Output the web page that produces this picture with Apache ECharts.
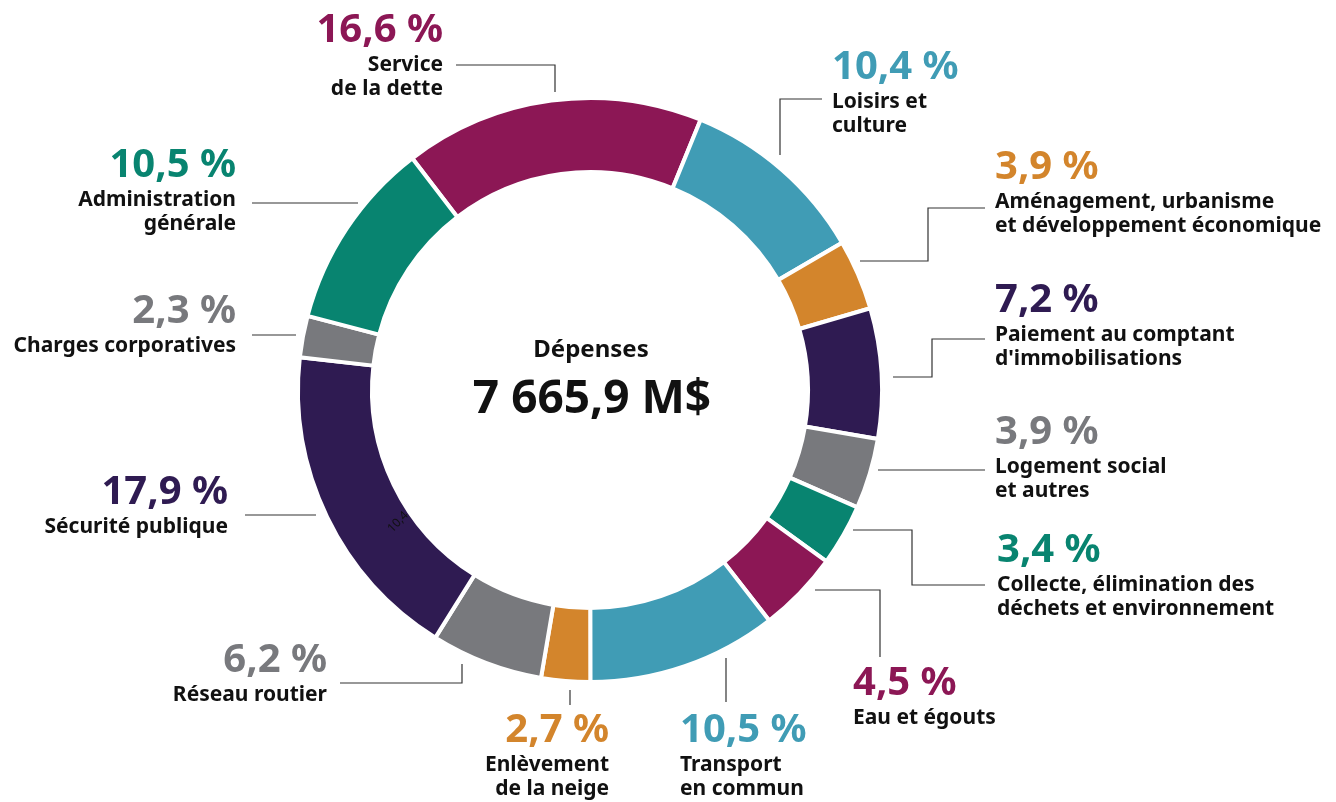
<!DOCTYPE html>
<html>
<head>
<meta charset="utf-8">
<script src="https://cdn.jsdelivr.net/npm/echarts@6/dist/echarts.min.js"></script>
<style>
  html, body { margin: 0; padding: 0; background: #fff; }
  #chart { width: 1336px; height: 802px; }
</style>
</head>
<body>
<div id="chart"></div>
<script>
// budget shares, clockwise from the top-left
const categories = [
  'Service\nde la dette',
  'Loisirs et\nculture',
  'Aménagement, urbanisme\net développement économique',
  'Paiement au comptant\nd\'immobilisations',
  'Logement social\net autres',
  'Collecte, élimination des\ndéchets et environnement',
  'Eau et égouts',
  'Transport\nen commun',
  'Enlèvement\nde la neige',
  'Réseau routier',
  'Sécurité publique',
  'Charges corporatives',
  'Administration\ngénérale'
];
const shares = [16.6, 10.4, 3.9, 7.2, 3.9, 3.4, 4.5, 10.5, 2.7, 6.2, 17.9, 2.3, 10.5];
const centerTitle = 'Dépenses';
const centerTotal = '7 665,9 M$';

const MAGENTA = '#8c1755', BLUE = '#409cb5', ORANGE = '#d3852c',
      PURPLE = '#2f1b52', GREY = '#78797d', GREEN = '#088470';
const colors = [MAGENTA, BLUE, ORANGE, PURPLE, GREY, GREEN, MAGENTA, BLUE, ORANGE, GREY, PURPLE, GREY, GREEN];

// label anchor: x, y (top of block), alignment
const labelPos = [
  [443, 9, 'right'],
  [832, 46, 'left'],
  [995, 146, 'left'],
  [995, 279, 'left'],
  [995, 411, 'left'],
  [997, 529, 'left'],
  [853, 662, 'left'],
  [680, 709, 'left'],
  [609, 709, 'right'],
  [327, 639, 'right'],
  [228, 471, 'right'],
  [236, 290, 'right'],
  [236, 144, 'right']
];
// leader lines
const leaderLines = [
  [[456, 65], [555, 65], [555, 92]],
  [[822, 99], [780, 99], [780, 155]],
  [[985, 208], [928, 208], [928, 261], [860, 261]],
  [[985, 339], [932, 339], [932, 377], [893, 377]],
  [[985, 470], [878, 470]],
  [[985, 585], [912, 585], [912, 530], [853, 530]],
  [[815, 590], [880, 590], [880, 657]],
  [[726, 658], [726, 702]],
  [[570, 690], [570, 705]],
  [[340, 683], [462, 683], [462, 664]],
  [[245, 515], [316, 515]],
  [[252, 335], [296, 335]],
  [[252, 203], [358, 203]]
];

const FONT = '"Noto Sans", "DejaVu Sans", sans-serif';

let chart = echarts.init(document.getElementById('chart'));

chart.setOption({
  animation: false,
  backgroundColor: '#fff',
  graphic: [
    {
      type: 'text', x: 591, y: 350,
      style: { text: centerTitle, font: 'bold 24px ' + FONT, fill: '#111', align: 'center', verticalAlign: 'middle' }
    },
    {
      type: 'text', x: 592, y: 400,
      style: { text: centerTotal, font: 'bold 46px ' + FONT, fill: '#111', align: 'center', verticalAlign: 'middle' }
    },
    {
      type: 'text', x: 398, y: 522, rotation: 0.8, z: 100,
      style: { text: '10,4', font: '12px ' + FONT, fill: '#111', align: 'center', verticalAlign: 'middle' }
    }
  ],
  series: [{
    type: 'pie',
    center: [590, 390],
    radius: [218, 292],
    startAngle: 127.5,
    clockwise: true,
    avoidLabelOverlap: false,
    itemStyle: { borderColor: '#fff', borderWidth: 4 },
    emphasis: { disabled: true },
    data: shares.map((v, i) => ({
      name: categories[i],
      value: v,
      itemStyle: { color: colors[i] },
      label: { rich: { p: { color: colors[i] } } }
    })),
    label: {
      show: true,
      position: 'outside',
      formatter: (params) => {
        let pct = params.value.toFixed(1).replace('.', ',') + ' %';
        let lines = params.name.split('\n').map(s => '{n|' + s + '}').join('\n');
        return '{p|' + pct + '}\n' + lines;
      },
      rich: {
        p: { fontFamily: FONT, fontWeight: 'bold', fontSize: 40, lineHeight: 44 },
        n: { fontFamily: FONT, fontWeight: 'bold', fontSize: 21, lineHeight: 24, color: '#111' }
      }
    },
    labelLine: {
      show: true,
      smooth: false,
      lineStyle: { color: '#333', width: 1.2 }
    },
    labelLayout: (params) => {
      let p = labelPos[params.dataIndex];
      return {
        x: p[0],
        y: p[1],
        align: p[2],
        verticalAlign: 'top',
        labelLinePoints: leaderLines[params.dataIndex]
      };
    }
  }]
});
</script>
</body>
</html>
